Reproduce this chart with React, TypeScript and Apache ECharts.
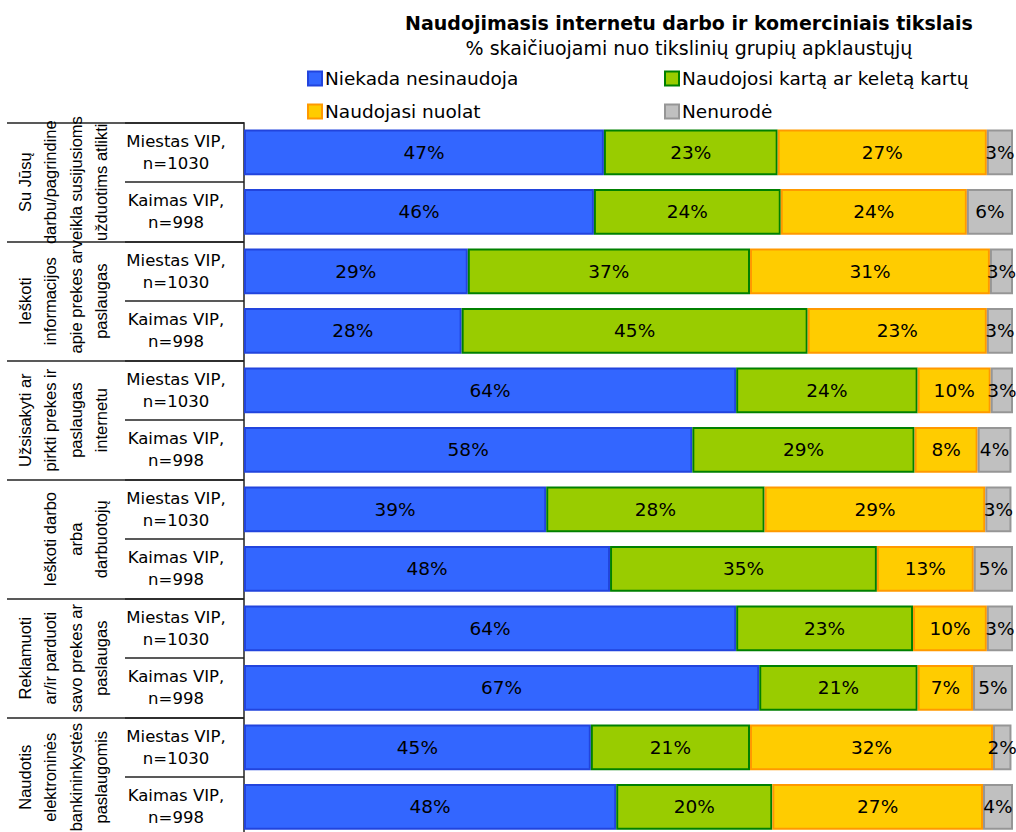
import React, { useEffect, useRef } from "react";
import * as echarts from "echarts";

const seriesNames = [
  "Niekada nesinaudoja",
  "Naudojosi kartą ar keletą kartų",
  "Naudojasi nuolat",
  "Nenurodė",
];

const groupLabels = [
  "Su Jūsų\ndarbu/pagrindine\nveikla susijusioms\nužduotims atlikti",
  "Ieškoti\ninformacijos\napie prekes ar\npaslaugas",
  "Užsisakyti ar\npirkti prekes ir\npaslaugas\ninternetu",
  "Ieškoti darbo\narba\ndarbuotojų",
  "Reklamuoti\nar/ir parduoti\nsavo prekes ar\npaslaugas",
  "Naudotis\nelektroninės\nbankininkystės\npaslaugomis",
];

const rowLabels = [
  "Miestas VIP,\nn=1030", "Kaimas VIP,\nn=998",
  "Miestas VIP,\nn=1030", "Kaimas VIP,\nn=998",
  "Miestas VIP,\nn=1030", "Kaimas VIP,\nn=998",
  "Miestas VIP,\nn=1030", "Kaimas VIP,\nn=998",
  "Miestas VIP,\nn=1030", "Kaimas VIP,\nn=998",
  "Miestas VIP,\nn=1030", "Kaimas VIP,\nn=998",
];

const never = [46.8, 45.5, 29.1, 28.3, 64.0, 58.3, 39.3, 47.6, 64.0, 67.0, 45.1, 48.4];
const fewTimes = [22.6, 24.3, 36.7, 45.0, 23.6, 28.9, 28.4, 34.7, 23.0, 20.6, 20.7, 20.3];
const constantly = [27.2, 24.2, 31.2, 23.3, 9.5, 8.2, 28.7, 12.6, 9.6, 7.2, 31.6, 27.4];
const notSpecified = [3.4, 6.0, 3.0, 3.4, 2.9, 4.4, 3.4, 5.1, 3.4, 5.2, 2.4, 3.9];

const fills = ["#3366FF", "#99CC00", "#FFCC00", "#C0C0C0"];
const borders = ["#2244DD", "#008000", "#FF9900", "#969696"];

const FONT = "DejaVu Sans";

export default function App() {
  const ref = useRef<HTMLDivElement>(null);

  useEffect(() => {
    if (!ref.current) return;
    const chart = echarts.init(ref.current, null, { renderer: "svg" });
    const values = [never, fewTimes, constantly, notSpecified];
    const gridTop = 122.7;
    const rowH = 59.5;
    const gridH = rowH * rowLabels.length;

    const legendBase = {
      orient: "vertical",
      top: 64,
      itemGap: 14,
      itemWidth: 14,
      itemHeight: 14,
      icon: "rect",
      textStyle: { fontFamily: FONT, fontSize: 18.5, color: "#000", padding: [0, 0, 0, -2] },
    };

    chart.setOption({
      animation: false,
      backgroundColor: "#ffffff",
      title: {
        text: "Naudojimasis internetu darbo ir komerciniais tikslais",
        subtext: "% skaičiuojami nuo tikslinių grupių apklaustųjų",
        left: 684,
        textAlign: "center",
        top: 8,
        itemGap: 6,
        textStyle: { fontFamily: FONT, fontSize: 19, fontWeight: "bold", color: "#000" },
        subtextStyle: { fontFamily: FONT, fontSize: 19, color: "#000" },
      },
      legend: [
        { ...legendBase, data: [seriesNames[0], seriesNames[2]], left: 302 },
        { ...legendBase, data: [seriesNames[1], seriesNames[3]], left: 659 },
      ],
      grid: {
        left: 244,
        right: 3,
        top: gridTop,
        height: gridH,
        outerBoundsMode: "none",
        containLabel: false,
      },
      xAxis: {
        type: "value",
        min: 0,
        max: 100,
        show: false,
      },
      yAxis: [
        {
          type: "category",
          data: rowLabels,
          inverse: true,
          position: "left",
          axisLine: { show: true, lineStyle: { color: "#222", width: 1.5 } },
          axisTick: { show: true, length: 119, interval: 0, lineStyle: { color: "#222", width: 1.5 } },
          axisLabel: {
            interval: 0,
            margin: 68,
            align: "center",
            fontFamily: FONT,
            fontSize: 16.5,
            lineHeight: 22,
            color: "#000",
          },
        },
        {
          type: "category",
          data: groupLabels,
          inverse: true,
          position: "left",
          axisLine: { show: false },
          axisTick: { show: true, length: 237, interval: 0, lineStyle: { color: "#222", width: 1.5 } },
          axisLabel: {
            interval: 0,
            rotate: 90,
            margin: 130,
            fontFamily: "Liberation Sans",
            fontSize: 16.5,
            lineHeight: 25.5,
            color: "#000",
          },
        },
      ],
      series: seriesNames.map((name, i) => ({
        name,
        type: "bar",
        stack: "total",
        yAxisIndex: 0,
        barCategoryGap: "23%",
        data: values[i],
        itemStyle: { color: fills[i], borderColor: borders[i], borderWidth: 2 },
        label: {
          show: true,
          position: "inside",
          formatter: (p: any) => Math.round(p.value) + "%",
          fontFamily: FONT,
          fontSize: 18.5,
          color: "#000",
        },
      })),
    });

    return () => chart.dispose();
  }, []);

  return (
    <div
      ref={ref}
      style={{ position: "absolute", left: 0, top: 0, width: 1016, height: 832 }}
    />
  );
}
